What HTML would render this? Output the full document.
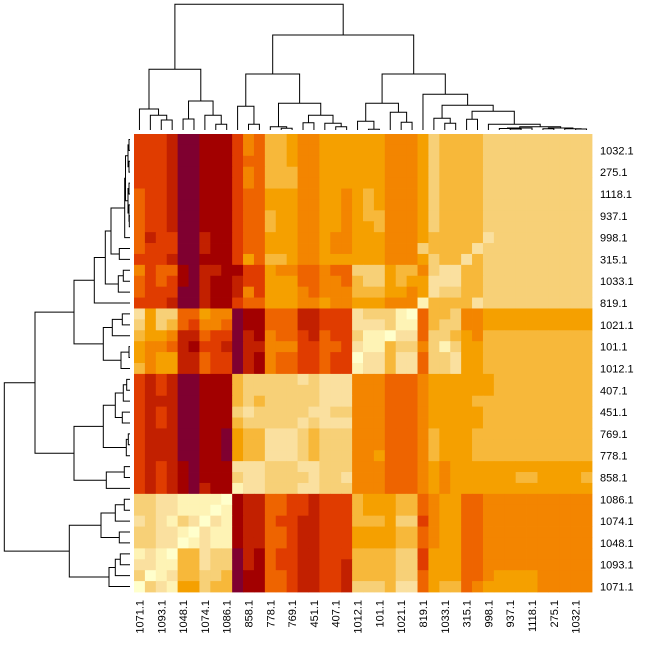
<!DOCTYPE html>
<html><head><meta charset="utf-8"><style>
html,body{margin:0;padding:0;background:#fff;}
svg{display:block;font-family:"Liberation Sans",Arial,sans-serif;}
</style></head><body>
<svg id="chart" width="672" height="672" viewBox="0 0 672 672">
<g id="cells"></g>
<g id="topdendro"></g>
<g id="leftdendro"></g>
<g id="collabels"></g>
<g id="rowlabels"></g>
</svg>
<script>
const colLabels = ["1071.1","1093.1","1048.1","1074.1","1086.1","858.1","778.1","769.1","451.1","407.1","1012.1","101.1","1021.1","819.1","1033.1","315.1","998.1","937.1","1118.1","275.1","1032.1"];
const rowLabels = ["1032.1","275.1","1118.1","937.1","998.1","315.1","1033.1","819.1","1021.1","101.1","1012.1","407.1","451.1","769.1","778.1","858.1","1086.1","1074.1","1048.1","1093.1","1071.1"];
const palette = ["#7f0030","#a20000","#c22000","#e03c00","#ee6400","#f38500","#f5a000","#f7b83a","#f7d077","#fae09f","#fef3b5","#ffffcc"];
const matrixRows = [
"33320011135477655666"+"6665556877778888888888",
"33320011135477655666"+"6665556877778888888888",
"33320011134477655666"+"6665556877778888888888",
"33320011135477755666"+"6665556877778888888888",
"33320011135477755666"+"6665556877778888888888",
"43320011134466655665"+"6765556877778888888888",
"43320011134466655665"+"6765556877778888888888",
"43320011134476655665"+"6775556877778888888888",
"43320011134476655665"+"6675556877778888888888",
"42330021134466655655"+"6665556777779888888888",
"43330021134466655655"+"6665558777798888888888",
"33320011136477655666"+"6665556877978888888888",
"53441022113365544544"+"8886775899778888888888",
"43431021123366644554"+"7886766999778888888888",
"43330021125366654555"+"7776656988778888888888",
"33320021134466655655"+"666555a777798888888888",
"96884465501144422333"+"9888ab4778556666666666",
"86874355401144422333"+"9998aa4788556666666666",
"76652243302154432433"+"8aab994887657777777777",
"65542133202255533443"+"9aa78858a8667777777777",
"65662243302154433433"+"b997994889667777777777",
"75662243302154433433"+"a997994889667777777777",
"32320011178888898999"+"5554445666666777777777",
"32320011178888888999"+"5554445666666777777777",
"32220011178788888999"+"5554445666677777777777",
"32320011189888889988"+"5554445666667777777777",
"32320011178888898999"+"5554445666667777777777",
"32220011067799987888"+"5554445766677777777777",
"32220011067799987888"+"5554445766677777777777",
"32220011067799987888"+"5564445766677777777777",
"32321011199988899888"+"5554445656666666666666",
"32321011189988889889"+"5554445656666667766667",
"323210211a9988899888"+"5554445656666666666666",
"8899aaaab12244332333"+"7666774566445555555555",
"8899aaaba12244332333"+"7666774566445555555555",
"989a89b9a12243322333"+"7776883566445555555555",
"8899ab9aa12244322333"+"6666774566445555555555",
"8899ba9aa12244322333"+"6666774566445555555555",
"a9ab7798802143322333"+"7777883666445555555555",
"99aa7798802143322332"+"7777883666445555555555",
"8ba97788701144322332"+"7777884666445666655555",
"b89a6687701144322332"+"8887994677456666655555"
];
// dendrogram merges: [left, right, height(px)]
const colTree = [[[0,[1,[2,3,120],115.3],109],[[4,5,119],[6,[7,8,124.3],115.3],101],69.3],
 [[[9,[10,11,124.3],106.3],[[12,[13,14,128.3],126.7],[[15,16,122.7],[17,[18,19,126.7],123.3],115.3],103.3],74],
  [[[20,[21,22,129.3],121.3],[23,[24,25,122.3],112.3],103.3],
   [26,[[27,[28,29,123.3],118.3],[[30,31,119.3],[32,[[[33,[34,35,129],128.5],36,128],[[37,38,128.7],[39,[40,41,129],128.7],128],126.7],124.3],111.3],105.3],94.3],74],35],4.3];
const rowTree = [[[[[[[[[[0,1,129],[2,3,129],128],[[4,5,129],[6,[7,8,129.3],129],128],125.5],9,124.7],[10,11,119.3],111],[[12,13,123.3],14,118.3],105.3],15,94.3],
   [[[16,17,122.3],18,112.3],[[19,20,129],21,121],103.3],74],
  [[[[[22,23,126.7],24,123.3],[25,26,122.3],115.3],[[27,28,128.3],29,126.3],103.3],[[30,31,124.3],32,106.3],74],35],
 [[[[33,34,124.3],35,115.3],[36,37,119.3],101],[[[38,39,120.3],40,115.3],41,109],69.3],4.3];

const NS="http://www.w3.org/2000/svg";
const X0=134, Y0=134, SIZE=458;
const nCols=matrixRows[0].length, nRows=matrixRows.length;
const cw=SIZE/nCols, ch=SIZE/nRows;
const xScale=c=>X0+c*cw, yScale=r=>Y0+r*ch;
const cells=document.getElementById('cells');
matrixRows.forEach((row,r)=>{
  for(let c=0;c<nCols;c++){
    const v=parseInt(row[c],16);
    const rect=document.createElementNS(NS,'rect');
    rect.setAttribute('x',xScale(c)); rect.setAttribute('y',yScale(r));
    rect.setAttribute('width',cw+0.4); rect.setAttribute('height',ch+0.4);
    rect.setAttribute('fill',palette[v]);
    
    
    cells.appendChild(rect);
  }
});
function drawTree(node,g,posFn,vertical){
  let d="";
  function walk(n){
    if(typeof n==="number") return {p:posFn(n),h:130};
    const a=walk(n[0]), b=walk(n[1]), h=n[2];
    if(vertical) d+=`M${a.p},${a.h}V${h}H${b.p}V${b.h}`;
    else d+=`M${a.h},${a.p}H${h}V${b.p}H${b.h}`;
    return {p:(a.p+b.p)/2,h:h};
  }
  walk(node);
  const path=document.createElementNS(NS,'path');
  path.setAttribute('d',d); path.setAttribute('fill','none');
  path.setAttribute('stroke','#000'); path.setAttribute('stroke-width','1');
  
  
  g.appendChild(path);
}
drawTree(colTree,document.getElementById('topdendro'),c=>xScale(c)+cw/2,true);
drawTree(rowTree,document.getElementById('leftdendro'),r=>yScale(r)+ch/2,false);
const cl=document.getElementById('collabels');
colLabels.forEach((t,i)=>{
  const x=xScale(i*2)+cw/2;
  const tx=document.createElementNS(NS,'text');
  tx.setAttribute('transform',`translate(${x+4},600) rotate(-90)`);
  tx.setAttribute('text-anchor','end'); tx.setAttribute('font-size','11');
  tx.textContent=t;
  
  
  cl.appendChild(tx);
});
const rl=document.getElementById('rowlabels');
rowLabels.forEach((t,i)=>{
  const y=yScale(i*2+1)+ch/2;
  const tx=document.createElementNS(NS,'text');
  tx.setAttribute('x',600); tx.setAttribute('y',y+4);
  tx.setAttribute('font-size','11');
  tx.textContent=t;
  
  
  rl.appendChild(tx);
});
</script>
</body></html>
